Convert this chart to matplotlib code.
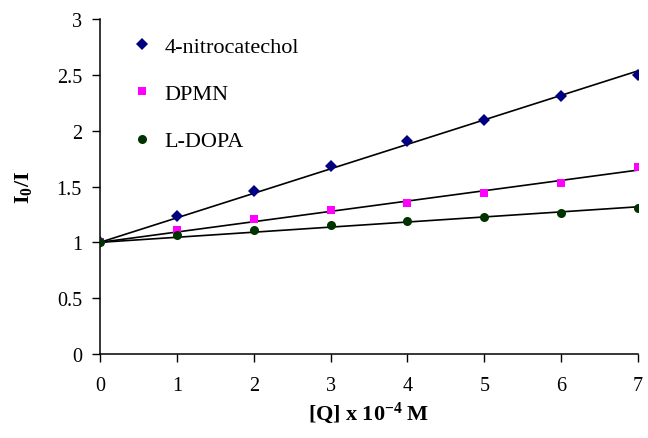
import numpy as np
import matplotlib
matplotlib.use("Agg")
import matplotlib.pyplot as plt

plt.rcParams["font.family"] = ["Liberation Serif", "DejaVu Serif"]
plt.rcParams["mathtext.fontset"] = "custom"
plt.rcParams["mathtext.rm"] = "Liberation Serif"
plt.rcParams["mathtext.it"] = "Liberation Serif:italic"
plt.rcParams["mathtext.bf"] = "Liberation Serif:bold"

# Stern-Volmer data: quencher concentration vs I0/I
conc = [0, 1, 2, 3, 4, 5, 6, 7]
nitrocatechol = [1.00, 1.24, 1.46, 1.686, 1.91, 2.10, 2.31, 2.50]
dpmn = [1.00, 1.11, 1.205, 1.29, 1.355, 1.44, 1.535, 1.675]
ldopa = [1.00, 1.065, 1.115, 1.155, 1.19, 1.225, 1.265, 1.305]

series_names = ["4-nitrocatechol", "DPMN", "L-DOPA"]
x_ticks = [0, 1, 2, 3, 4, 5, 6, 7]
y_ticks = [0, 0.5, 1, 1.5, 2, 2.5, 3]
y_tick_labels = ["0", "0.5", "1", "1.5", "2", "2.5", "3"]

fig = plt.figure(figsize=(6.48, 4.39), dpi=100)
ax = fig.add_axes([0.1543, 0.1913, 0.8303, 0.7631])

styles = [
    dict(marker="D", color="#000080", ms=6.2),
    dict(marker="s", color="#FF00FF", ms=6.0),
    dict(marker="o", color="#003300", ms=6.5),
]

x = np.array(conc, dtype=float)
for name, ys, st in zip(series_names, [nitrocatechol, dpmn, ldopa], styles):
    ys = np.array(ys)
    # linear trendline with the intercept fixed at the unquenched value
    y0 = ys[0]
    k = np.sum(x * (ys - y0)) / np.sum(x * x)
    xf = np.array([x.min(), x.max()])
    ax.plot(xf, y0 + k * xf, color="black", lw=1.2, zorder=2)
    ax.plot(x, ys, linestyle="none", marker=st["marker"], color=st["color"],
            markersize=st["ms"], markeredgewidth=0, label=name, zorder=3)

ax.set_xlim(0, 7)
ax.set_ylim(0, 3)
ax.set_xticks(x_ticks)
ax.set_yticks(y_ticks)
ax.set_yticklabels(y_tick_labels)
ax.tick_params(axis="both", direction="out", length=6, width=1, labelsize=14.5)
ax.tick_params(axis="x", pad=10)
ax.tick_params(axis="y", pad=7)
for side in ("top", "right"):
    ax.spines[side].set_visible(False)
for side in ("left", "bottom"):
    ax.spines[side].set_linewidth(1.1)

ax.set_xlabel(r"$\mathbf{[Q]\ x\ 10^{-4}\ M}$", fontsize=16, labelpad=3)
ax.set_ylabel(r"$\mathbf{I_0/I}$", fontsize=16, labelpad=16)

ax.legend(loc="upper left", bbox_to_anchor=(0.045, 0.975), frameon=False,
          fontsize=16, handlelength=0.8, handletextpad=0.63, labelspacing=1.2,
          markerscale=1.0, borderaxespad=0)

fig.savefig("out.png", dpi=100)
